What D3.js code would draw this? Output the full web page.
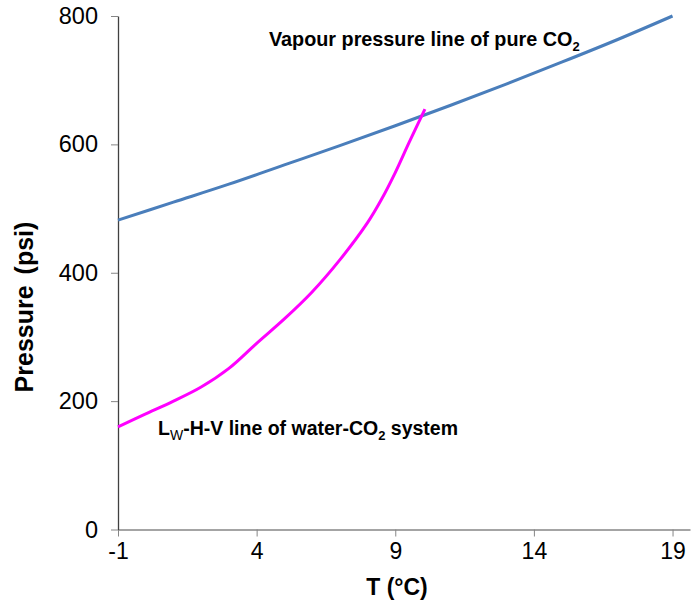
<!DOCTYPE html>
<html>
<head>
<meta charset="utf-8">
<script src="https://cdn.jsdelivr.net/npm/d3@7"></script>
<style>
  body { margin: 0; background: #fff; }
  text { font-family: "Liberation Sans", Arial, sans-serif; }
</style>
</head>
<body>
<div id="chart"></div>
<script>
var width = 691,
    height = 604;

// vapour pressure line of pure CO2
var vapourT = [-1, 1, 3, 5, 7, 9, 11, 13, 15, 17, 19];
var vapourP = [482, 510, 538, 568, 598, 629, 661, 694, 728, 763, 800];

// Lw-H-V line of water-CO2 system
var hydrateT = [-1, 0, 1, 2, 3, 4, 5, 6, 7, 8, 8.5, 9, 9.5, 10.07];
var hydrateP = [160, 180, 200, 222, 251, 290, 328, 370, 420, 478, 514, 556, 603, 655];

var xTicks = [-1, 4, 9, 14, 19];
var yTicks = [0, 200, 400, 600, 800];

var svg = d3.select("#chart")
    .append("svg")
    .attr("width", width)
    .attr("height", height);

var x = d3.scaleLinear().domain([-1, 19.63]).range([118, 690]);
var y = d3.scaleLinear().domain([0, 800]).range([529.5, 16]);

/* x axis */
var xAxis = svg.append("g")
    .attr("transform", "translate(0," + y(0) + ")")
    .call(d3.axisBottom(x).tickValues(xTicks).tickFormat(String)
        .tickSize(7).tickPadding(6).tickSizeOuter(0));
xAxis.select(".domain").attr("stroke", "#868686").attr("stroke-width", 1.3);
xAxis.selectAll(".tick line").attr("stroke", "#868686");
xAxis.selectAll(".tick text")
    .attr("font-size", 23)
    .attr("fill", "#000")
    .style("font-family", "Liberation Sans, Arial, sans-serif");

/* y axis */
var yAxis = svg.append("g")
    .attr("transform", "translate(" + x(-1) + ",0)")
    .call(d3.axisLeft(y).tickValues(yTicks).tickFormat(String)
        .tickSize(7).tickPadding(13).tickSizeOuter(0));
yAxis.select(".domain").attr("stroke", "#404040").attr("stroke-width", 1.3);
yAxis.selectAll(".tick line").attr("stroke", "#868686");
yAxis.selectAll(".tick text")
    .attr("font-size", 23.5)
    .attr("fill", "#000")
    .style("font-family", "Liberation Sans, Arial, sans-serif");

/* lines */
var line = d3.line()
    .x(function(d) { return x(d[0]); })
    .y(function(d) { return y(d[1]); })
    .curve(d3.curveCatmullRom.alpha(0.5));

svg.append("path")
    .datum(d3.zip(vapourT, vapourP))
    .attr("d", line)
    .attr("fill", "none")
    .attr("stroke", "#4a7ebb")
    .attr("stroke-width", 3);

svg.append("path")
    .datum(d3.zip(hydrateT, hydrateP))
    .attr("d", line)
    .attr("fill", "none")
    .attr("stroke", "#ff00ff")
    .attr("stroke-width", 3);

/* axis titles */
svg.append("text")
    .attr("x", 397)
    .attr("y", 595)
    .attr("text-anchor", "middle")
    .attr("font-size", 23)
    .attr("font-weight", "bold")
    .text("T (°C)");

svg.append("text")
    .attr("transform", "translate(33,307) rotate(-90)")
    .attr("text-anchor", "middle")
    .attr("font-size", 25)
    .attr("font-weight", "bold")
    .attr("word-spacing", 4)
    .text("Pressure (psi)");

/* annotations */
var t1 = svg.append("text")
    .attr("x", 269)
    .attr("y", 46)
    .attr("font-size", 19.8)
    .attr("font-weight", "bold");
t1.append("tspan").text("Vapour pressure line of pure CO");
t1.append("tspan").attr("dy", 5).attr("font-size", 13).text("2");

var t2 = svg.append("text")
    .attr("x", 158)
    .attr("y", 435)
    .attr("font-size", 19.5)
    .attr("font-weight", "bold");
t2.append("tspan").text("L");
t2.append("tspan").attr("dy", 5).attr("font-size", 14).attr("font-weight", "normal").text("W");
t2.append("tspan").attr("dy", -5).text("-H-V line of water-CO");
t2.append("tspan").attr("dy", 5).attr("font-size", 13).text("2");
t2.append("tspan").attr("dy", -5).text(" system");
</script>
</body>
</html>
